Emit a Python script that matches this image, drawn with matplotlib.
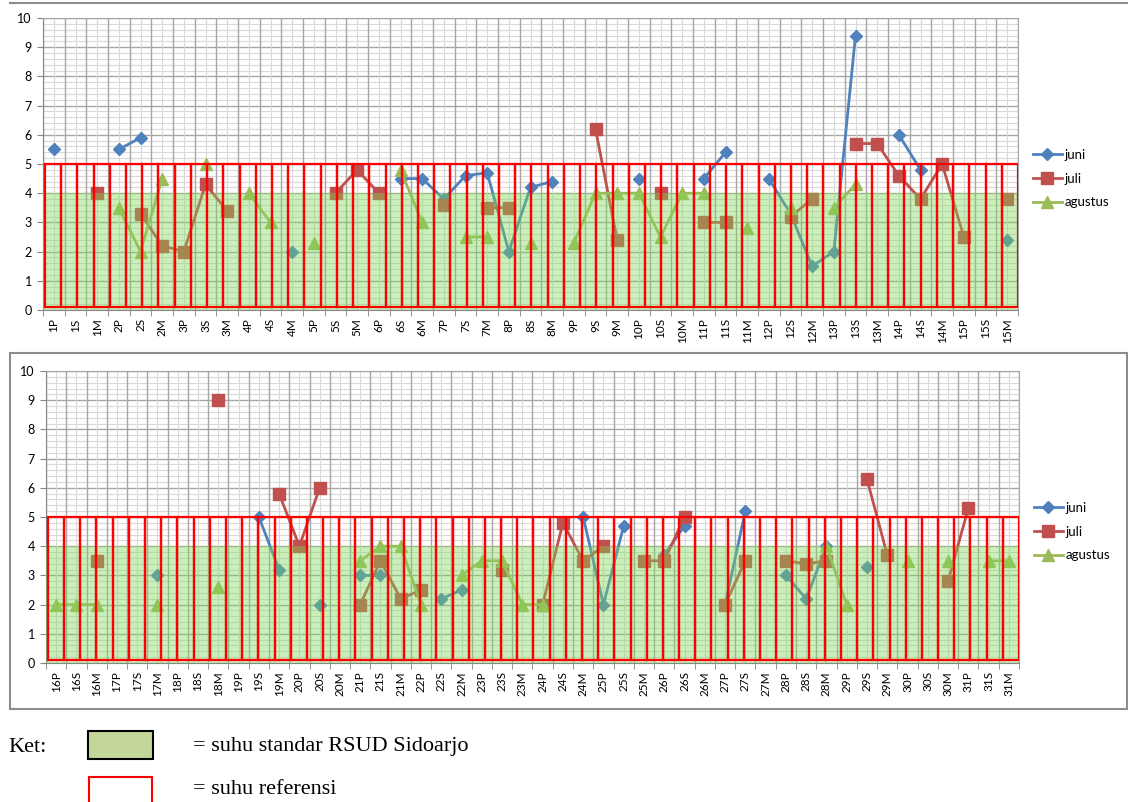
import numpy as np
import matplotlib
matplotlib.use("Agg")
import matplotlib.pyplot as plt
from matplotlib.patches import Rectangle
from matplotlib.lines import Line2D
import matplotlib.transforms as mtransforms

nan = np.nan

# day + shift (P = pagi, S = siang, M = malam)
top_labels = ["1P", "1S", "1M", "2P", "2S", "2M", "3P", "3S", "3M", "4P", "4S", "4M",
              "5P", "5S", "5M", "6P", "6S", "6M", "7P", "7S", "7M", "8P", "8S", "8M",
              "9P", "9S", "9M", "10P", "10S", "10M", "11P", "11S", "11M", "12P", "12S", "12M",
              "13P", "13S", "13M", "14P", "14S", "14M", "15P", "15S", "15M"]
bottom_labels = ["16P", "16S", "16M", "17P", "17S", "17M", "18P", "18S", "18M", "19P", "19S", "19M",
                 "20P", "20S", "20M", "21P", "21S", "21M", "22P", "22S", "22M", "23P", "23S", "23M",
                 "24P", "24S", "24M", "25P", "25S", "25M", "26P", "26S", "26M", "27P", "27S", "27M",
                 "28P", "28S", "28M", "29P", "29S", "29M", "30P", "30S", "30M", "31P", "31S", "31M"]

juni_top = [5.5, nan, nan, 5.5, 5.9, nan, nan, nan, nan, nan, nan, 2.0,
            nan, nan, nan, nan, 4.5, 4.5, 3.8, 4.6, 4.7, 2.0, 4.2, 4.4,
            nan, nan, nan, 4.5, nan, nan, 4.5, 5.4, nan, 4.5, 3.3, 1.5,
            2.0, 9.4, nan, 6.0, 4.8, nan, nan, nan, 2.4]
juli_top = [nan, nan, 4.0, nan, 3.3, 2.2, 2.0, 4.3, 3.4, nan, nan, nan,
            nan, 4.0, 4.8, 4.0, nan, nan, 3.6, nan, 3.5, 3.5, nan, nan,
            nan, 6.2, 2.4, nan, 4.0, nan, 3.0, 3.0, nan, nan, 3.2, 3.8,
            nan, 5.7, 5.7, 4.6, 3.8, 5.0, 2.5, nan, 3.8]
agustus_top = [nan, nan, nan, 3.5, 2.0, 4.5, nan, 5.0, nan, 4.0, 3.0, nan,
               2.3, nan, nan, nan, 4.8, 3.0, nan, 2.5, 2.5, nan, 2.3, nan,
               2.3, 4.0, 4.0, 4.0, 2.5, 4.0, 4.0, nan, 2.8, nan, 3.5, nan,
               3.5, 4.3, nan, nan, nan, nan, nan, nan, nan]

juni_bottom = [nan, nan, nan, nan, nan, 3.0, nan, nan, nan, nan, 5.0, 3.2,
               nan, 2.0, nan, 3.0, 3.0, nan, nan, 2.2, 2.5, nan, nan, nan,
               nan, nan, 5.0, 2.0, 4.7, nan, 3.7, 4.7, nan, 2.0, 5.2, nan,
               3.0, 2.2, 4.0, nan, 3.3, nan, nan, nan, nan, nan, nan, nan]
juli_bottom = [nan, nan, 3.5, nan, nan, nan, nan, nan, 9.0, nan, nan, 5.8,
               4.0, 6.0, nan, 2.0, 3.5, 2.2, 2.5, nan, nan, nan, 3.2, nan,
               2.0, 4.8, 3.5, 4.0, nan, 3.5, 3.5, 5.0, nan, 2.0, 3.5, nan,
               3.5, 3.4, 3.5, nan, 6.3, 3.7, nan, nan, 2.8, 5.3, nan, nan]
agustus_bottom = [2.0, 2.0, 2.0, nan, nan, 2.0, nan, nan, 2.6, nan, nan, nan,
                  nan, nan, nan, 3.5, 4.0, 4.0, 2.0, nan, 3.0, 3.5, 3.5, 2.0,
                  2.0, nan, nan, nan, nan, nan, nan, nan, nan, nan, nan, nan,
                  nan, nan, 4.0, 2.0, nan, nan, 3.5, nan, 3.5, nan, 3.5, 3.5]

standar_max = 4.0      # suhu standar RSUD
referensi = (0.1, 5.0)  # suhu referensi
n_boxes = 60

W, H = 1128, 802
fig = plt.figure(figsize=(W / 100, H / 100), dpi=100)
plt.rcParams['font.family'] = ['Lato', 'DejaVu Sans']


def draw_panel(ax, labels, juni, juli, agustus):
    n = len(labels)
    x = np.arange(n)

    # grid like an excel sheet
    for v in np.arange(0, 10.01, 0.2):
        major = abs(v - round(v)) < 1e-6
        ax.axhline(v, color='#a6a6a6' if major else '#d9d9d9', lw=1.0 if major else 0.8, zorder=0)
    for i in range(n + 1):
        ax.axvline(i - 0.5, color='#a6a6a6', lw=1.0, zorder=0)
    for i in range(n):
        ax.axvline(i, color='#d9d9d9', lw=0.8, zorder=0)

    ax.plot(x, juni, color='#4f81bd', marker='D', ms=6.5, lw=2, label='juni', zorder=3)
    ax.plot(x, juli, color='#c0504d', marker='s', ms=8, lw=2, label='juli', zorder=3)
    ax.plot(x, agustus, color='#9bbb59', marker='^', ms=8, lw=2, label='agustus', zorder=3)

    # green standard band sits on top of the series
    ax.axhspan(0, standar_max, color='#7ed957', alpha=0.4, lw=0, zorder=4)

    # red reference boxes
    trans = mtransforms.blended_transform_factory(ax.transAxes, ax.transData)
    x0 = 0.002
    bw = (1.0 - x0) / n_boxes
    for k in range(n_boxes):
        ax.add_patch(Rectangle((x0 + k * bw, referensi[0]), bw, referensi[1] - referensi[0],
                               transform=trans, fill=False, edgecolor='#ff0000', lw=1.6, zorder=5))

    ax.set_xlim(-0.5, n - 0.5)
    ax.set_ylim(0, 10)
    ax.set_yticks(range(0, 11))
    ax.set_xticks(x)
    ax.set_xticklabels(labels, rotation=90, fontsize=8.5)
    ax.set_xticks(np.arange(n + 1) - 0.5, minor=True)
    ax.tick_params(axis='x', which='major', length=0, pad=6)
    ax.tick_params(axis='x', which='minor', length=4, color='#868686')
    ax.tick_params(axis='y', length=4, color='#868686', labelsize=9, pad=4)
    for side in ['left', 'bottom']:
        ax.spines[side].set_color('#868686')
    for side in ['top', 'right']:
        ax.spines[side].set_color('#a6a6a6')

    leg = ax.legend(loc='center left', bbox_to_anchor=(1.015, 0.45), frameon=False,
                    fontsize=9.5, handlelength=2.2, handletextpad=0.2, labelspacing=0.9,
                    borderaxespad=0, borderpad=0)
    return leg


ax1 = fig.add_axes([43 / W, 1 - 310 / H, 975 / W, 292 / H])
draw_panel(ax1, top_labels, juni_top, juli_top, agustus_top)

ax2 = fig.add_axes([46 / W, 1 - 663 / H, 973 / W, 292 / H])
draw_panel(ax2, bottom_labels, juni_bottom, juli_bottom, agustus_bottom)

# chart frames
fig.add_artist(Line2D([10 / W, 1], [1 - 3 / H, 1 - 3 / H], color='#8c8c8c', lw=1.5))
fig.add_artist(Rectangle((10 / W, 1 - 709 / H), 1117 / W, 356 / H, fill=False,
                         edgecolor='#8c8c8c', lw=1.5))

# keterangan
serif = 'Liberation Serif'
fig.text(8 / W, 1 - 747 / H, "Ket:", fontsize=16, family=serif, va='center')
fig.add_artist(Rectangle((88 / W, 1 - 759 / H), 65 / W, 28 / H, facecolor='#c4d79b',
                         edgecolor='black', lw=1.5))
fig.text(193 / W, 1 - 746 / H, "= suhu standar RSUD Sidoarjo", fontsize=16, family=serif, va='center')
fig.add_artist(Rectangle((89 / W, -10 / H), 63 / W, (802 - 777 + 10) / H, fill=False,
                         edgecolor='#ff0000', lw=1.5))
fig.text(193 / W, 1 - 790 / H, "= suhu referensi", fontsize=16, family=serif, va='center')

fig.savefig("out.png", dpi=100)
